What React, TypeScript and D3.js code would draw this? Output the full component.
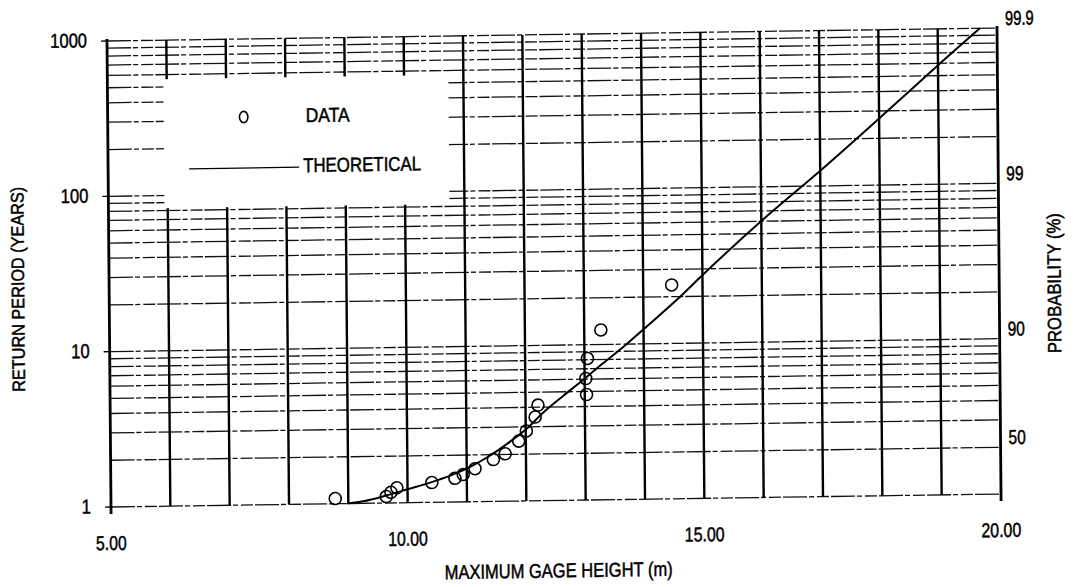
import React from 'react';
import * as d3 from 'd3';

// observed flood data (gage height in m, return period in years)
const gageHeight = [8.78, 9.64, 9.72, 9.82, 10.41, 10.8, 10.94, 11.14, 11.45, 11.65, 11.88, 12.01, 12.16, 12.21, 13.03, 13.02, 13.05, 13.28, 14.48];
const returnPeriod = [1.08, 1.1, 1.17, 1.25, 1.34, 1.42, 1.5, 1.63, 1.86, 2.02, 2.43, 2.82, 3.46, 4.13, 4.78, 6.06, 8.15, 12.4, 23.8];

// theoretical curve
const theoHeight = [9.0, 9.25, 9.65, 10.0, 10.38, 10.72, 11.06, 11.39, 11.73, 12.02, 12.3, 12.64, 12.92, 13.26, 13.63, 14.05, 14.56, 15.02, 16.0, 17.05, 18.07, 19.07, 19.71];
const theoPeriod = [1.0, 1.03, 1.12, 1.22, 1.34, 1.48, 1.68, 1.97, 2.41, 2.93, 3.7, 4.72, 5.72, 7.3, 9.41, 12.9, 19.0, 27.8, 60.2, 130, 283, 615, 1000];

const xTicks = [5, 10, 15, 20];
const yTicks = [1, 10, 100, 1000];
const probTicks = [50, 90, 99, 99.9];

const W = 1078, H = 587;
const FONT = '"Liberation Sans", Arial, sans-serif';

// condensed width of a label (the scan uses a narrow face)
const narrow = (s: string, digit: number) =>
    s.split('').reduce((w, c) => w + (c === '.' ? 3 : digit), 0);

export default function App() {
    const x = d3.scaleLinear().domain([5, 20]).range([107, 997]);
    const y = d3.scaleLog().domain([1, 1000]).range([507, 41]);

    const curve = d3.line<number>()
        .x((d, i) => x(theoHeight[i]))
        .y((d, i) => y(theoPeriod[i]))
        .curve(d3.curveMonotoneX)(theoHeight);

    const hLines = y.ticks();
    const vLines = d3.range(6, 20);
    const [x0, x1] = x.range();
    const [yb, yt] = y.range();

    const txt = { fontFamily: FONT, fill: '#000', stroke: '#000', strokeWidth: 0.5, lengthAdjust: 'spacingAndGlyphs' } as const;

    return (
        <svg width={W} height={H} style={{ position: 'absolute', left: 0, top: 0, background: '#fff' }}>
            {/* slight scan skew of the original sheet */}
            <g transform="matrix(1,-0.0146,0.0086,1,-0.353,1.562)">
                {/* horizontal grid (log minor ticks) */}
                {hLines.map(t => (
                    <line key={'h' + t} x1={x0} x2={x1} y1={y(t)} y2={y(t)}
                        stroke="#111" strokeWidth={1.3} strokeDasharray="24,2,5,3,12,2" />
                ))}
                {/* vertical grid */}
                {vLines.map(v => (
                    <line key={'v' + v} x1={x(v)} x2={x(v)} y1={yt} y2={yb}
                        stroke="#000" strokeWidth={2.4} />
                ))}
                {/* frame left / right */}
                <line x1={x0} x2={x0} y1={yt - 2} y2={yb + 7} stroke="#000" strokeWidth={2.8} />
                <line x1={x1} x2={x1} y1={yt - 2} y2={yb + 7} stroke="#000" strokeWidth={2.8} />

                {/* left axis ticks and labels */}
                {yTicks.map(t => (
                    <g key={'yt' + t}>
                        <line x1={x0 - 6} x2={x0} y1={y(t)} y2={y(t)} stroke="#000" strokeWidth={1.3} />
                        <text x={87} y={y(t) - 1} textAnchor="end" dominantBaseline="central" fontSize={20}
                            textLength={narrow(String(t), 9.2)} {...txt}>{t}</text>
                    </g>
                ))}

                {/* bottom labels */}
                {xTicks.map(v => (
                    <text key={'xt' + v} x={x(v)} y={543} textAnchor="middle" dominantBaseline="central" fontSize={20}
                        textLength={narrow(v.toFixed(2), 9.2)} {...txt}>
                        {v.toFixed(2)}
                    </text>
                ))}

                {/* right probability labels */}
                {probTicks.map(p => (
                    <text key={'p' + p} x={1005} y={y(1 / (1 - p / 100)) - 10} dominantBaseline="central" fontSize={20}
                        textLength={narrow(String(p), 8.6)} {...txt}>
                        {p}
                    </text>
                ))}

                {/* axis titles */}
                <text x={554} y={577} textAnchor="middle" dominantBaseline="central" fontSize={20}
                    textLength={228} {...txt}>MAXIMUM GAGE HEIGHT (m)</text>
                <text transform="translate(16,288) rotate(-90)" textAnchor="middle" dominantBaseline="central" fontSize={18}
                    textLength={205} {...txt}>RETURN PERIOD (YEARS)</text>
                <text transform="translate(1052,297) rotate(-90)" textAnchor="middle" dominantBaseline="central" fontSize={19}
                    textLength={140} {...txt}>PROBABILITY (%)</text>

                {/* legend */}
                <rect x={163} y={80} width={285} height={129} fill="#fff" />
                <ellipse cx={243} cy={119} rx={4.2} ry={5.6} fill="none" stroke="#000" strokeWidth={1.6} />
                <text x={305} y={118} dominantBaseline="central" fontSize={20} textLength={44} {...txt}>DATA</text>
                <line x1={188} x2={298} y1={170} y2={170} stroke="#000" strokeWidth={1.3} />
                <text x={302} y={168} dominantBaseline="central" fontSize={20} textLength={118} {...txt}>THEORETICAL</text>

                {/* theoretical curve */}
                <path d={curve ?? ''} fill="none" stroke="#000" strokeWidth={2} />

                {/* data points */}
                {gageHeight.map((g, i) => (
                    <circle key={'d' + i} cx={x(g)} cy={y(returnPeriod[i])} r={6}
                        fill="none" stroke="#000" strokeWidth={1.6} />
                ))}
            </g>
        </svg>
    );
}
